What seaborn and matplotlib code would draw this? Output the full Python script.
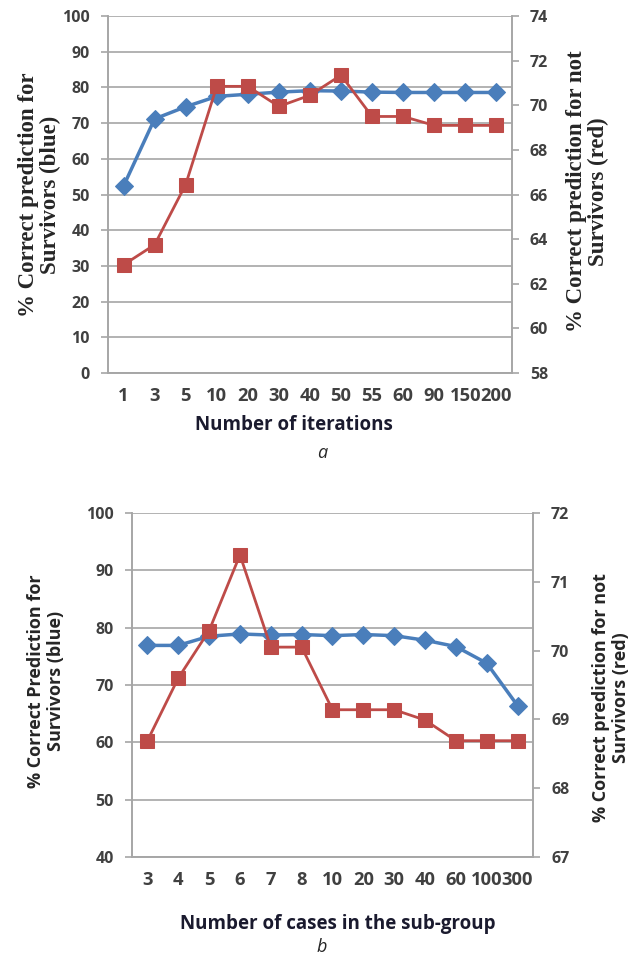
import numpy as np
import pandas as pd
import matplotlib
matplotlib.use("Agg")
import matplotlib.pyplot as plt
import seaborn as sns

# panel a: number of iterations
iters = ['1', '3', '5', '10', '20', '30', '40', '50', '55', '60', '90', '150', '200']
iter_blue = [52.4, 71.2, 74.6, 77.5, 78.1, 78.7, 79.1, 79.0, 78.7, 78.6, 78.6, 78.6, 78.6]
iter_red = [62.85, 63.75, 66.45, 70.85, 70.85, 69.95, 70.45, 71.35, 69.5, 69.5, 69.1, 69.1, 69.1]

# panel b: number of cases in the sub-group
cases = ['3', '4', '5', '6', '7', '8', '10', '20', '30', '40', '60', '100', '300']
case_blue = [76.9, 76.9, 78.5, 78.9, 78.7, 78.8, 78.6, 78.8, 78.6, 77.8, 76.7, 73.8, 66.4]
case_red = [68.69, 69.6, 70.29, 71.39, 70.05, 70.05, 69.14, 69.14, 69.14, 68.99, 68.69, 68.69, 68.69]

BLUE = '#4a7ebb'
RED = '#be4b48'
GRID = '#a6a6a6'
TICK = '#404040'

sns.set_style("white")
plt.rcParams['font.family'] = ['Open Sans', 'DejaVu Sans']

fig = plt.figure(figsize=(6.43, 9.57), dpi=100)


def panel(rect, cats, blue, red, ylim_l, step_l, ylim_r, step_r):
    ax = fig.add_axes(rect)
    df = pd.DataFrame({'x': np.arange(len(cats)), 'blue': blue, 'red': red})
    sns.lineplot(data=df, x='x', y='blue', ax=ax, color=BLUE, lw=2.5,
                 marker='D', markersize=9, markeredgecolor=BLUE, zorder=3)
    ax.set_ylim(*ylim_l)
    ax.set_yticks(np.arange(ylim_l[0], ylim_l[1] + 0.1, step_l))
    ax.grid(axis='y', color=GRID, lw=1.2)
    ax.set_axisbelow(True)
    ax.set_xlim(-0.5, len(cats) - 0.5)
    ax.set_xticks(np.arange(len(cats)))
    ax.set_xticklabels(cats)
    ax.set_xticks(np.arange(len(cats) + 1) - 0.5, minor=True)
    ax.tick_params(axis='x', which='major', length=0, pad=10)
    ax.tick_params(axis='x', which='minor', length=5, color=GRID, width=1.2)
    ax.tick_params(axis='y', length=5, color=GRID, width=1.2, left=True, pad=8)
    ax.set_xlabel('')
    ax.set_ylabel('')

    ax2 = ax.twinx()
    sns.lineplot(data=df, x='x', y='red', ax=ax2, color=RED, lw=2,
                 marker='s', markersize=10, markeredgecolor=RED, zorder=4)
    ax2.set_ylim(*ylim_r)
    ax2.set_yticks(np.arange(ylim_r[0], ylim_r[1] + 0.01, step_r))
    ax2.tick_params(axis='y', length=5, color=GRID, width=1.2, right=True, pad=8)
    ax2.set_ylabel('')
    ax2.grid(False)

    for a in (ax, ax2):
        for s in a.spines.values():
            s.set_color(GRID)
            s.set_linewidth(1.2)
        a.spines['top'].set_visible(False)
        for lab in a.get_yticklabels():
            lab.set_fontweight('bold')
            lab.set_color(TICK)
            lab.set_fontsize(11.5)
    for lab in ax.get_xticklabels():
        lab.set_fontweight('bold')
        lab.set_color(TICK)
        lab.set_fontsize(13.2)
    return ax, ax2


ax_a, ax_a2 = panel([0.168, 0.6102, 0.628, 0.373], iters, iter_blue, iter_red,
                    (0, 100), 10, (58, 74), 2)
ax_b, ax_b2 = panel([0.2053, 0.1045, 0.6236, 0.3595], cases, case_blue, case_red,
                    (40, 100), 10, (67, 72), 1)

serif = ['Liberation Serif', 'DejaVu Serif']
fig.text(0.062, 0.796, '% Correct prediction for\nSurvivors (blue)', rotation=90,
         ha='center', va='center', family=serif, weight='bold', fontsize=16.5,
         linespacing=1.05)
fig.text(0.914, 0.80, '% Correct prediction for not\nSurvivors (red)', rotation=90,
         ha='center', va='center', family=serif, weight='bold', fontsize=16.5,
         linespacing=1.05)
fig.text(0.457, 0.556, 'Number of iterations', ha='center', va='center',
         weight='bold', fontsize=13.5, color='#1a1a2e')
fig.text(0.501, 0.527, 'a', ha='center', va='center', style='italic', fontsize=13)

fig.text(0.072, 0.288, '% Correct Prediction for\nSurvivors (blue)', rotation=90,
         ha='center', va='center', weight='bold', fontsize=13, linespacing=1.15)
fig.text(0.950, 0.271, '% Correct prediction for not\nSurvivors (red)', rotation=90,
         ha='center', va='center', weight='bold', fontsize=13, linespacing=1.15)
fig.text(0.526, 0.035, 'Number of cases in the sub-group', ha='center', va='center',
         weight='bold', fontsize=13.5, color='#1a1a2e')
fig.text(0.501, 0.010, 'b', ha='center', va='center', style='italic', fontsize=13)

fig.savefig('out.png', dpi=100)
